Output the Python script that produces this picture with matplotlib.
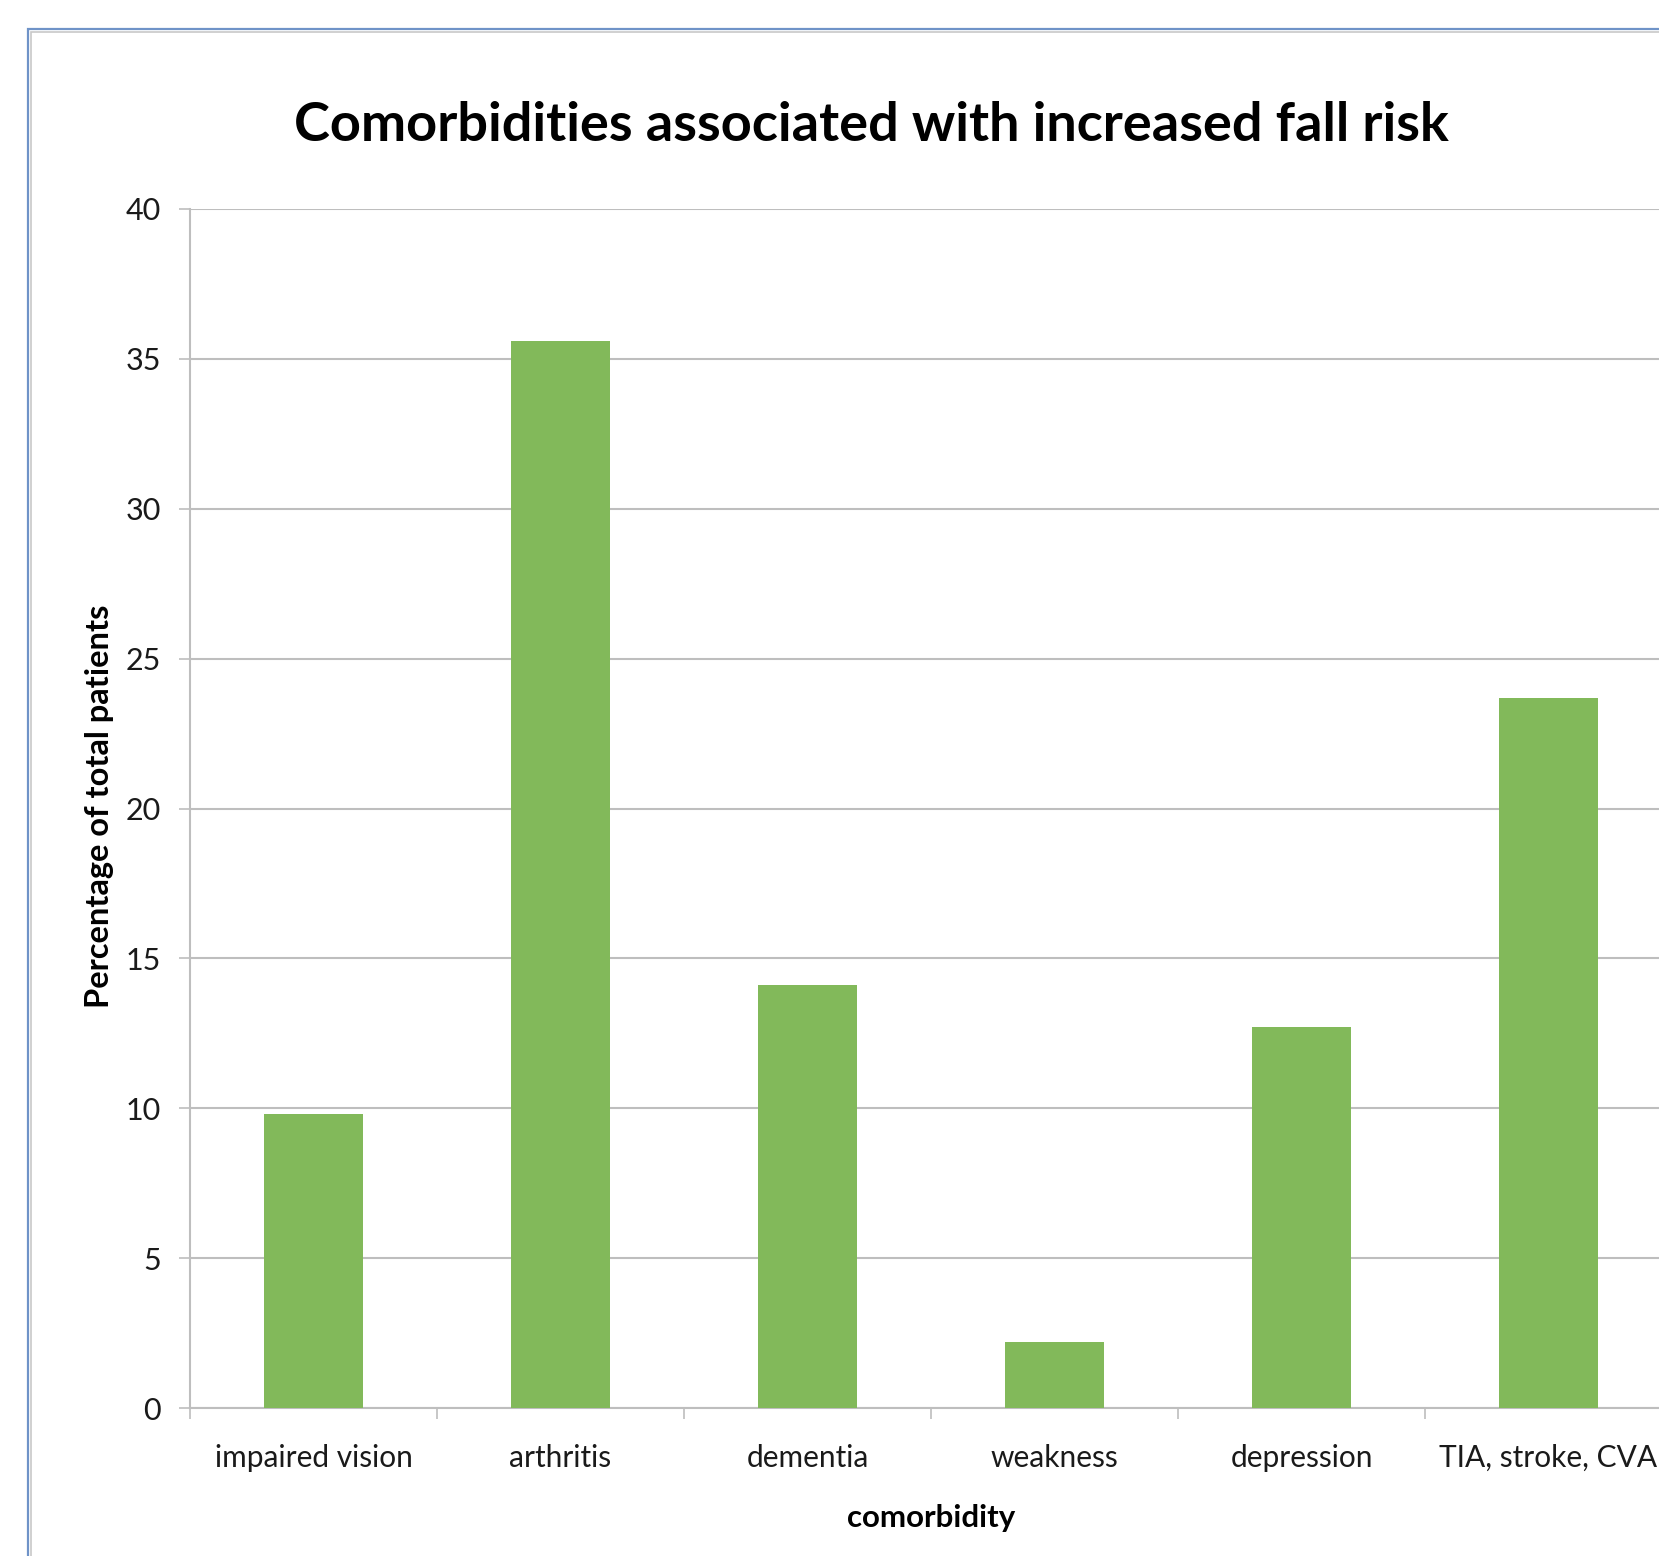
import matplotlib
matplotlib.use("Agg")
import matplotlib.pyplot as plt
from matplotlib.patches import Rectangle

categories = ["impaired vision", "arthritis", "dementia", "weakness", "depression", "TIA, stroke, CVA"]
percentages = [9.8, 35.6, 14.1, 2.2, 12.7, 23.7]
y_ticks = [0, 5, 10, 15, 20, 25, 30, 35, 40]

title = "Comorbidities associated with increased fall risk"
x_label = "comorbidity"
y_label = "Percentage of total patients"

bar_color = "#82B95A"
grid_color = "#BEBEBE"
font = "Lato"

W, H = 1659, 1556
fig = plt.figure(figsize=(W / 100, H / 100), dpi=100)
fig.patch.set_facecolor("white")

# chart-area frame: blue outer edge with a thin grey inner line, running off the right/bottom
fig.add_artist(Rectangle((28 / W, -0.1), 1.2, 1 - 29 / H + 0.1, transform=fig.transFigure,
                         fill=False, edgecolor="#6F93C8", linewidth=1.6))
fig.add_artist(Rectangle((31 / W, -0.1), 1.2, 1 - 32 / H + 0.1, transform=fig.transFigure,
                         fill=False, edgecolor="#C8C8C8", linewidth=1.2))

# plot area: six category slots, the last one partly beyond the right edge
left, right, top, bottom = 190, 190 + 6 * 247, 209, 1408
ax = fig.add_axes([left / W, 1 - bottom / H, (right - left) / W, (bottom - top) / H])

x = list(range(len(categories)))
ax.bar(x, percentages, width=0.4, color=bar_color, zorder=3)

ax.set_xlim(-0.5, len(categories) - 0.5)
ax.set_ylim(0, 40)
ax.set_yticks(y_ticks)
ax.set_yticklabels([str(v) for v in y_ticks], fontsize=22, family=font, color="#1a1a1a")
ax.yaxis.grid(True, color=grid_color, linewidth=1.5, zorder=0)
ax.set_axisbelow(True)

# category boundary ticks (major) and centred labels (minor)
ax.set_xticks([i - 0.5 for i in x])
ax.set_xticklabels([])
ax.set_xticks(x, minor=True)
ax.set_xticklabels(categories, minor=True, fontsize=21.5, family=font, color="#1a1a1a")
ax.tick_params(axis="x", which="major", length=8, width=1.2, color=grid_color, direction="out")
ax.tick_params(axis="x", which="minor", length=0, pad=26)
ax.tick_params(axis="y", length=8, width=1.2, color=grid_color, direction="out", pad=13)

for side in ("top", "right"):
    ax.spines[side].set_visible(False)
for side in ("left", "bottom"):
    ax.spines[side].set_color(grid_color)
    ax.spines[side].set_linewidth(1.5)

fig.text(871 / W, 1 - 141 / H, title, ha="center", va="baseline",
         fontsize=39, fontweight="bold", family=font, color="black")
fig.text(100 / W, 1 - 806 / H, y_label, rotation=90, ha="center", va="center",
         fontsize=23.5, fontweight="bold", family=font, color="black")
fig.text(931 / W, 1 - 1518 / H, x_label, ha="center", va="center",
         fontsize=22.5, fontweight="bold", family=font, color="black")

fig.savefig("out.png", dpi=100, facecolor="white")
